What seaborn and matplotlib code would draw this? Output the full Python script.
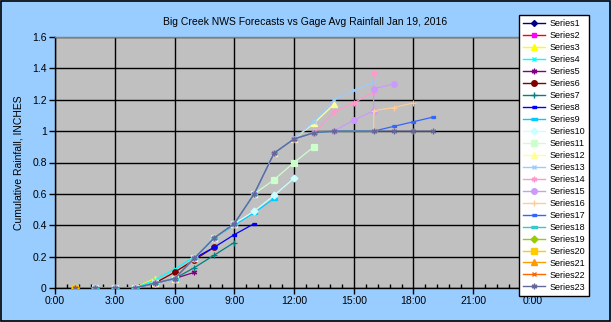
import matplotlib
matplotlib.use("Agg")
import matplotlib.pyplot as plt
import seaborn as sns
from matplotlib.lines import Line2D
from matplotlib.patches import Rectangle

# ---------------- data (hours of day, cumulative inches) ----------------
gage_hours = [1, 2, 3, 4, 5, 6, 7, 8, 9, 10, 11, 12, 13, 14, 16, 17, 18, 19]
gage_in = [0, 0, 0, 0, 0.03, 0.06, 0.19, 0.32, 0.41, 0.60, 0.86, 0.95, 0.99, 1.00, 1.00, 1.00, 1.00, 1.00]

s1_h, s1_v = [1, 2, 3], [0, 0, 0]
s2_h, s2_v = [1, 2, 3, 4], [0, 0, 0, 0]
s3_h, s3_v = [4, 5], [0, 0.06]
s4_h, s4_v = [4, 5, 6, 7], [0, 0.05, 0.12, 0.20]
s5_h, s5_v = [4, 5, 6, 7], [0, 0.03, 0.06, 0.10]
s6_h, s6_v = [5, 6, 7, 8], [0.03, 0.10, 0.18, 0.26]
s7_h, s7_v = [6, 7, 8, 9], [0.06, 0.13, 0.21, 0.29]
s8_h, s8_v = [7, 8, 9, 10], [0.19, 0.26, 0.34, 0.41]
s9_h, s9_v = [8, 9, 10, 11], [0.32, 0.40, 0.48, 0.57]
s10_h, s10_v = [9, 10, 11, 12], [0.41, 0.49, 0.59, 0.70]
s11_h, s11_v = [10, 11, 12, 13], [0.60, 0.69, 0.80, 0.90]
s12_h, s12_v = [12, 13, 14], [0.95, 1.05, 1.17]
s13_h, s13_v = [12, 13, 14, 15, 16], [0.95, 1.06, 1.20, 1.26, 1.31]
s14_h, s14_v = [13, 14, 15, 16, 16], [0.99, 1.12, 1.18, 1.25, 1.37]
s15_h, s15_v = [14, 15, 16, 16, 17], [1.00, 1.07, 1.13, 1.27, 1.30]
s16_h, s16_v = [16, 16, 17, 18], [1.00, 1.13, 1.15, 1.18]
s17_h, s17_v = [16, 17, 18, 19], [1.00, 1.03, 1.06, 1.09]
s18_h, s18_v = [16], [1.00]
s19_h, s19_v = [1], [0]
s20_h, s20_v = [1], [0]
s21_h, s21_v = [1], [0]
s22_h, s22_v = [1], [0]

series_names = [f"Series{i}" for i in range(1, 24)]
x_tick_labels = ["0:00", "3:00", "6:00", "9:00", "12:00", "15:00", "18:00", "21:00", "0:00"]
y_tick_labels = ["0", "0.2", "0.4", "0.6", "0.8", "1", "1.2", "1.4", "1.6"]

# ---------------- styling ----------------
colors = ["#000080", "#FF00FF", "#FFFF00", "#00FFFF", "#800080", "#800000", "#008080",
          "#0000FF", "#00CCFF", "#CCFFFF", "#CCFFCC", "#FFFF99", "#99CCFF", "#FF99CC",
          "#CC99FF", "#FFCC99", "#3366FF", "#33CCCC", "#99CC00", "#FFCC00", "#FF9900",
          "#FF6600", "#666699"]
line_colors = list(colors)
line_colors[1] = "#FF0000"

star = (6, 2, 0)
short_bar = [(-0.6, -0.35), (0.6, -0.35), (0.6, 0.35), (-0.6, 0.35)]
long_bar = [(-1.0, -0.25), (1.0, -0.25), (1.0, 0.25), (-1.0, 0.25)]
markers = ['D', 's', '^', 'x', star, 'o', '+', short_bar, long_bar,
           'D', 's', '^', 'x', star, 'o', '+', short_bar, long_bar,
           'D', 's', '^', 'x', star]
msizes = [3, 3, 4, 3, 4, 4, 4, 3.5, 4.5, 3.5, 4, 4, 3, 4, 4, 4, 3.5, 4.5, 3.5, 4, 4, 3, 4]

plt.rcParams['font.family'] = ['Liberation Sans', 'DejaVu Sans']

fig = plt.figure(figsize=(6.11, 3.22), dpi=100)
fig.patch.set_facecolor("#99CCFF")
fig.patches.append(Rectangle((0.001, 0.002), 0.997, 0.995, transform=fig.transFigure,
                             fill=False, edgecolor="black", linewidth=1.2, zorder=10))

ax = fig.add_axes([55 / 611, 1 - 288 / 322, (533 - 55) / 611, (288 - 37) / 322])
ax.set_facecolor("#C0C0C0")


def full(h, v):
    hh = [g for g in gage_hours if g < h[0]]
    vv = [gv for g, gv in zip(gage_hours, gage_in) if g < h[0]]
    return hh + list(h), vv + list(v)


fc_h = [s1_h, s2_h, s3_h, s4_h, s5_h, s6_h, s7_h, s8_h, s9_h, s10_h, s11_h, s12_h,
        s13_h, s14_h, s15_h, s16_h, s17_h, s18_h, s19_h, s20_h, s21_h, s22_h]
fc_v = [s1_v, s2_v, s3_v, s4_v, s5_v, s6_v, s7_v, s8_v, s9_v, s10_v, s11_v, s12_v,
        s13_v, s14_v, s15_v, s16_v, s17_v, s18_v, s19_v, s20_v, s21_v, s22_v]

all_series = [full(h, v) for h, v in zip(fc_h, fc_v)] + [(gage_hours, gage_in)]

for i, (h, v) in enumerate(all_series):
    sns.lineplot(x=h, y=v, ax=ax, estimator=None, sort=False, color=line_colors[i],
                 linewidth=0.9, marker=markers[i], markersize=msizes[i],
                 markerfacecolor=colors[i], markeredgecolor=colors[i],
                 markeredgewidth=0.9, zorder=3 + i, legend=False)

ax.set_xlim(0, 24)
ax.set_ylim(0, 1.6)
ax.set_xticks(range(0, 25, 3))
ax.set_xticklabels(x_tick_labels, fontsize=7.5)
ax.set_yticks([i * 0.2 for i in range(9)])
ax.set_yticklabels(y_tick_labels, fontsize=7.5)
ax.set_xticks([i * 0.6 for i in range(41)], minor=True)
ax.tick_params(axis='x', which='minor', direction='in', length=3, width=1, color='black')
ax.tick_params(axis='both', which='major', direction='out', length=4, width=1, color='black', pad=2)
ax.grid(True, which='major', color='black', linewidth=1.0, zorder=1)
ax.set_axisbelow(True)
for side in ['left', 'bottom']:
    ax.spines[side].set_color('black')
    ax.spines[side].set_linewidth(1.0)
for side in ['top', 'right']:
    ax.spines[side].set_color('#808080')
    ax.spines[side].set_linewidth(1.0)

ax.set_ylabel("Cumulative Rainfall, INCHES", fontsize=7.5, labelpad=6)
fig.text(305 / 611, 1 - 22 / 322, "Big Creek NWS Forecasts vs Gage Avg Rainfall Jan 19, 2016",
         ha='center', va='center', fontsize=7.5)

handles = [Line2D([0], [0], color=line_colors[i], linewidth=1.0, marker=markers[i],
                  markersize=msizes[i], markerfacecolor=colors[i], markeredgecolor=colors[i])
           for i in range(23)]
leg = fig.legend(handles, series_names, loc='upper left',
                 bbox_to_anchor=(519 / 611, 1 - 15 / 322), fontsize=6.5,
                 frameon=True, fancybox=False, edgecolor='black', facecolor='white',
                 labelspacing=0.33, handlelength=2.4, handletextpad=0.5,
                 borderpad=0.45, borderaxespad=0.0)
leg.get_frame().set_linewidth(1.0)
leg.get_frame().set_alpha(1.0)

fig.savefig("out.png", dpi=100, facecolor=fig.get_facecolor())
